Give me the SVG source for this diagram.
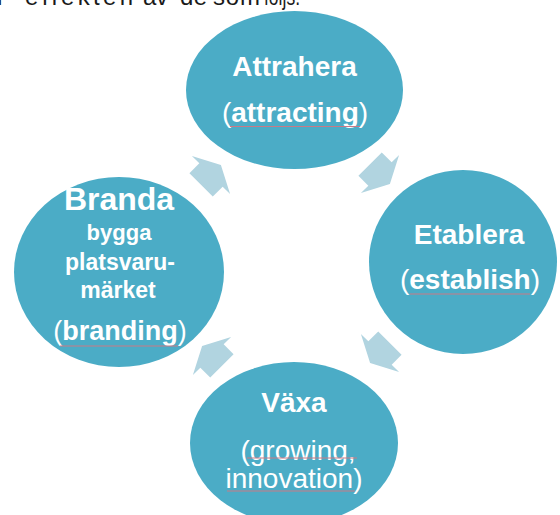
<svg xmlns="http://www.w3.org/2000/svg" width="560" height="515" viewBox="0 0 560 515">
  <defs>
    <style>
      .stage { fill: #4bacc6; }
      .arrow { fill: #b1d4e0; }
      .lbl { font-family: "Liberation Sans", Arial, sans-serif; fill: #ffffff; text-anchor: middle; }
      .b { font-weight: bold; }
      .n { font-weight: normal; }
      .spell { stroke: #c97a86; stroke-width: 1.2; fill: none; }
      .lead { font-family: "Liberation Sans", Arial, sans-serif; font-size: 24px; fill: #1a1a1a; }
    </style>
    <path id="cycle-arrow" d="M-14,-16.5 H0 V-27 L14,0 L0,27 V16.5 H-14 Z"/>
  </defs>

  <rect width="560" height="515" fill="#ffffff"/>

  <!-- tail end of the preceding sentence, cut by the top edge -->
  <text class="lead" y="4.5"><tspan x="-3">r</tspan><tspan x="25" textLength="108">effekten</tspan><tspan x="143" textLength="25">av</tspan><tspan x="180" textLength="27">de</tspan><tspan x="213" textLength="47">som</tspan><tspan x="264" textLength="36" lengthAdjust="spacingAndGlyphs">följs.</tspan></text>

  <!-- clockwise cycle arrows -->
  <g id="connectors">
    <use href="#cycle-arrow" class="arrow" transform="translate(211,175) rotate(-45)"/>
    <use href="#cycle-arrow" class="arrow" transform="translate(380,174) rotate(45)"/>
    <use href="#cycle-arrow" class="arrow" transform="translate(380,353) rotate(135)"/>
    <use href="#cycle-arrow" class="arrow" transform="translate(212,356) rotate(-135)"/>
  </g>

  <g id="attrahera">
    <ellipse class="stage" cx="294.5" cy="90" rx="108.5" ry="79"/>
    <text class="lbl b" x="294.5" y="76" font-size="28">Attrahera</text>
    <text class="lbl" x="295" y="122" font-size="28"><tspan class="n">(</tspan><tspan class="b">attracting</tspan><tspan class="n">)</tspan></text>
    <path class="spell" d="M230,126.5 H360"/>
  </g>

  <g id="etablera">
    <ellipse class="stage" cx="463" cy="262" rx="94" ry="92"/>
    <text class="lbl b" x="469" y="244" font-size="28">Etablera</text>
    <text class="lbl" x="470" y="289" font-size="28"><tspan class="n">(</tspan><tspan class="b">establish</tspan><tspan class="n">)</tspan></text>
    <path class="spell" d="M410,294 H530"/>
  </g>

  <g id="vaxa">
    <ellipse class="stage" cx="294" cy="443" rx="104" ry="81"/>
    <text class="lbl b" x="294" y="412" font-size="28">Växa</text>
    <text class="lbl n" x="298" y="460" font-size="28">(growing,</text>
    <text class="lbl n" x="294" y="488" font-size="28">innovation)</text>
    <path class="spell" d="M247,458 H357"/>
    <path class="spell" d="M227,491 H355"/>
  </g>

  <g id="branda">
    <ellipse class="stage" cx="119" cy="272" rx="105" ry="95"/>
    <text class="lbl b" x="119" y="210" font-size="32">Branda</text>
    <text class="lbl b" x="119" y="240" font-size="22">bygga</text>
    <text class="lbl b" x="120" y="270" font-size="23">platsvaru-</text>
    <text class="lbl b" x="118" y="298" font-size="23">märket</text>
    <text class="lbl" x="120" y="340" font-size="27"><tspan class="n">(</tspan><tspan class="b">branding</tspan><tspan class="n">)</tspan></text>
    <path class="spell" d="M60,346 H178"/>
  </g>
</svg>
